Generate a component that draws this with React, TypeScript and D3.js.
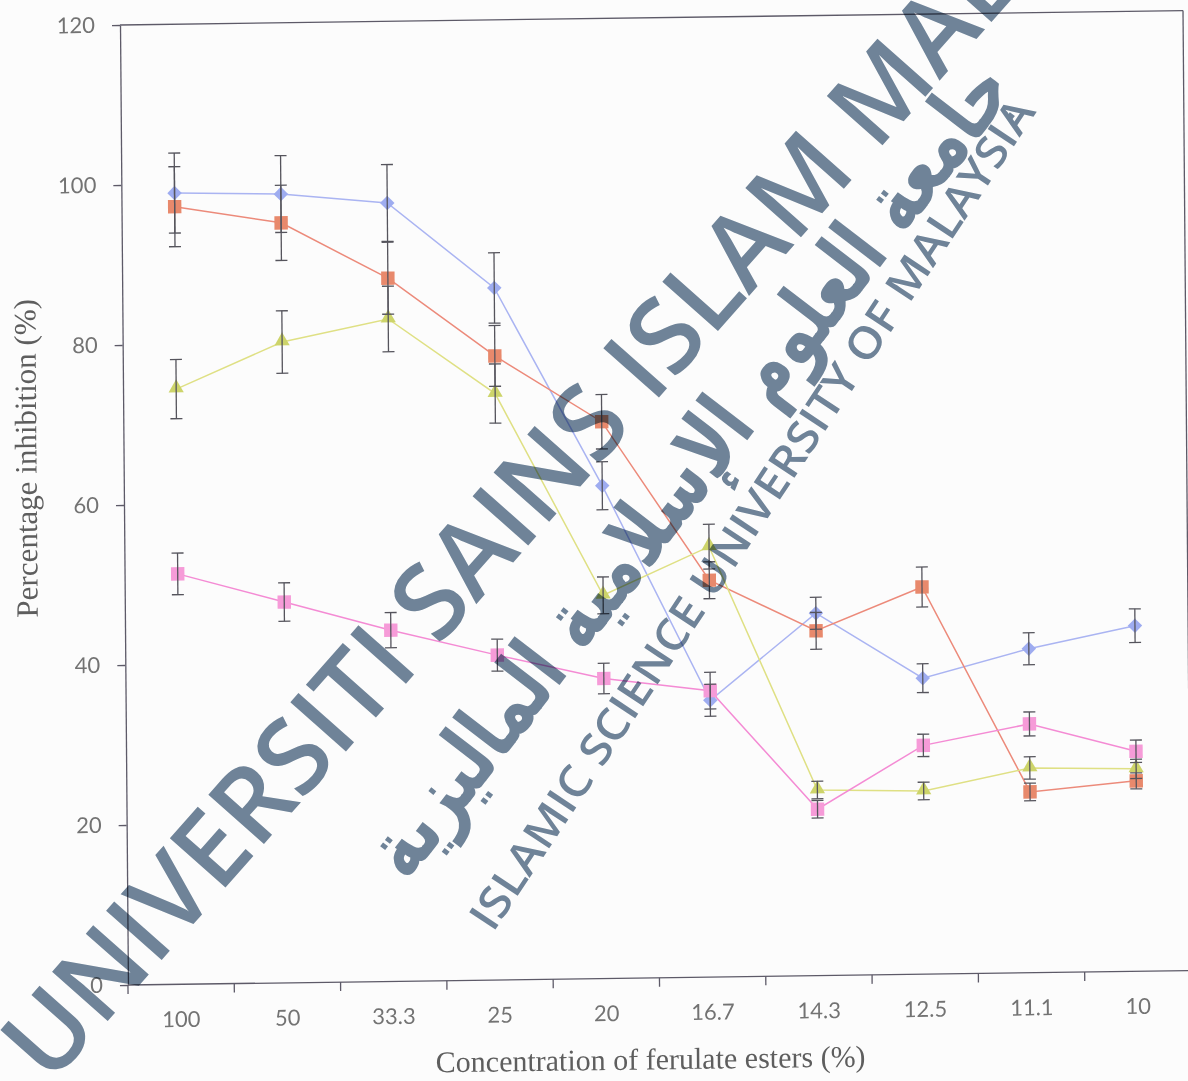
import React, { useEffect, useRef } from 'react'
import * as d3 from 'd3'

// concentration categories along the x axis
const categories = ['100', '50', '33.3', '25', '20', '16.7', '14.3', '12.5', '11.1', '10']
const yTicks = [0, 20, 40, 60, 80, 100, 120]

// series (percentage inhibition)
const diamondValues = [98.9, 98.6, 97.3, 86.5, 61.6, 34.6, 45.3, 37.0, 40.5, 43.2]
const diamondErrors = [5.0, 4.8, 4.8, 4.4, 3.0, 2.0, 2.0, 1.8, 2.0, 2.1]
const squareValues = [97.2, 95.0, 87.9, 78.0, 69.6, 49.6, 43.1, 48.4, 22.6, 23.8]
const squareErrors = [5.0, 4.7, 4.5, 3.8, 3.4, 2.3, 2.3, 2.5, 1.1, 1.0]
const triangleValues = [74.4, 80.1, 82.8, 73.3, 47.9, 53.8, 23.2, 22.9, 25.6, 25.3]
const triangleErrors = [3.7, 3.9, 4.1, 3.7, 2.3, 2.8, 1.1, 1.1, 1.4, 1.2]
const pinkValues = [51.3, 47.6, 43.9, 40.6, 37.5, 35.8, 20.8, 28.6, 31.1, 27.5]
const pinkErrors = [2.6, 2.4, 2.2, 2.0, 1.9, 2.3, 1.1, 1.4, 1.5, 1.4]

const series = [
	{ name: 'diamond', values: diamondValues, errors: diamondErrors, line: '#aab4f2', fill: '#9eacf0', symbol: 'diamond' },
	{ name: 'square', values: squareValues, errors: squareErrors, line: '#ec8a7a', fill: '#e8896c', symbol: 'square' },
	{ name: 'triangle', values: triangleValues, errors: triangleErrors, line: '#dfe084', fill: '#cdd46a', symbol: 'triangle' },
	{ name: 'pink', values: pinkValues, errors: pinkErrors, line: '#f48bd4', fill: '#f69bd8', symbol: 'square' },
]

const WIDTH = 1188
const HEIGHT = 1081

function Chart() {
	const ref = useRef(null)

	useEffect(() => {
		const svg = d3.select(ref.current)
		svg.selectAll('*').remove()

		const w = 1063
		const h = 960

		svg.append('rect').attr('width', WIDTH).attr('height', HEIGHT).attr('fill', '#fcfcfc')

		// the scan is slightly skewed, so the whole plot sits in a sheared group
		const chart = svg.append('g').attr('transform', 'matrix(1,-0.0136,0.0083,1,120,25)')

		const x = d3.scaleBand().domain(categories).range([0, w]).padding(0)
		const y = d3.scaleLinear().domain([0, 120]).range([h, 0])
		const cx = (c) => x(c) + x.bandwidth() / 2

		const axisColor = '#5d5a68'
		const labelColor = '#737373'

		// frame: top and right edges
		chart.append('line').attr('x1', 0).attr('x2', w).attr('y1', 0).attr('y2', 0)
			.attr('stroke', axisColor).attr('stroke-width', 1.3)
		chart.append('line').attr('x1', w).attr('x2', w).attr('y1', 0).attr('y2', h)
			.attr('stroke', axisColor).attr('stroke-width', 1.3)

		const yAxis = chart.append('g')
			.call(d3.axisLeft(y).tickValues(yTicks).tickSizeInner(8).tickSizeOuter(0).tickPadding(17))
		yAxis.select('.domain').attr('stroke', axisColor).attr('stroke-width', 1.3)
		yAxis.selectAll('.tick line').attr('stroke', axisColor).attr('stroke-width', 1.3)
		yAxis.selectAll('.tick text')
			.attr('fill', labelColor).attr('font-family', 'Lato, sans-serif').attr('font-size', 22)

		const xAxis = chart.append('g').attr('transform', `translate(0,${h})`)
		xAxis.append('line').attr('x1', 0).attr('x2', w).attr('stroke', axisColor).attr('stroke-width', 1.3)
		xAxis.selectAll('.tickmark')
			.data([...categories.map((c) => x(c)), w])
			.enter()
			.append('line')
			.attr('x1', (d) => d).attr('x2', (d) => d)
			.attr('y1', 0).attr('y2', 9)
			.attr('stroke', axisColor).attr('stroke-width', 1.3)
		xAxis.selectAll('.ticklabel')
			.data(categories)
			.enter()
			.append('text')
			.attr('x', (c) => cx(c))
			.attr('y', 35)
			.attr('dy', '0.35em')
			.attr('text-anchor', 'middle')
			.attr('fill', labelColor)
			.attr('font-family', 'Lato, sans-serif')
			.attr('font-size', 22)
			.text((c) => c)

		chart.append('text')
			.attr('x', 522)
			.attr('y', h + 81)
			.attr('dy', '0.35em')
			.attr('text-anchor', 'middle')
			.attr('fill', '#5e5e5e')
			.attr('font-family', '"Liberation Serif", serif')
			.attr('font-size', 30)
			.text('Concentration of ferulate esters (%)')

		chart.append('text')
			.attr('transform', `translate(-98,${h / 2 - 48}) rotate(-90)`)
			.attr('dy', '0.35em')
			.attr('text-anchor', 'middle')
			.attr('fill', '#5e5e5e')
			.attr('font-family', '"Liberation Serif", serif')
			.attr('font-size', 31)
			.text('Percentage inhibition (%)')

		const line = d3.line()
			.x((d) => cx(d.c))
			.y((d) => y(d.v))

		series.forEach((s) => {
			const pts = categories.map((c, i) => ({ c, v: s.values[i], e: s.errors[i] }))
			chart.append('path')
				.datum(pts)
				.attr('d', line)
				.attr('fill', 'none')
				.attr('stroke', s.line)
				.attr('stroke-width', 1.5)

			const sym =
				s.symbol === 'diamond'
					? d3.symbol().type(d3.symbolSquare).size(105)
					: s.symbol === 'triangle'
						? d3.symbol().type(d3.symbolTriangle).size(100)
						: d3.symbol().type(d3.symbolSquare).size(180)

			chart.append('g')
				.selectAll('path')
				.data(pts)
				.enter()
				.append('path')
				.attr('d', sym)
				.attr('transform', (d) =>
					`translate(${cx(d.c)},${y(d.v) + (s.symbol === 'triangle' ? -1 : 0)})` +
					(s.symbol === 'diamond' ? ' rotate(45)' : ''))
				.attr('fill', s.fill)
		})

		// error bars drawn last, over the markers
		series.forEach((s) => {
			const pts = categories.map((c, i) => ({ c, v: s.values[i], e: s.errors[i] }))
			const g = chart.append('g').attr('stroke', '#55545c').attr('stroke-width', 1.3)
			g.selectAll('.stem')
				.data(pts)
				.enter()
				.append('line')
				.attr('x1', (d) => cx(d.c)).attr('x2', (d) => cx(d.c))
				.attr('y1', (d) => y(d.v + d.e)).attr('y2', (d) => y(d.v - d.e))
			g.selectAll('.capTop')
				.data(pts)
				.enter()
				.append('line')
				.attr('x1', (d) => cx(d.c) - 6).attr('x2', (d) => cx(d.c) + 6)
				.attr('y1', (d) => y(d.v + d.e)).attr('y2', (d) => y(d.v + d.e))
			g.selectAll('.capBottom')
				.data(pts)
				.enter()
				.append('line')
				.attr('x1', (d) => cx(d.c) - 6).attr('x2', (d) => cx(d.c) + 6)
				.attr('y1', (d) => y(d.v - d.e)).attr('y2', (d) => y(d.v - d.e))
		})

		// university watermark stamped over the scan
		const mark = svg.append('g').attr('fill', '#70859a').style('mix-blend-mode', 'multiply')
		mark.append('text')
			.attr('transform', 'translate(50,1086) rotate(-48.5)')
			.attr('font-family', '"Open Sans", sans-serif')
			.attr('font-weight', 600)
			.attr('font-size', 104)
			.text('UNIVERSITI SAINS ISLAM MALAYSIA')
		mark.append('text')
			.attr('transform', 'translate(688,468) rotate(-52.5)')
			.attr('text-anchor', 'middle')
			.attr('dy', '0.35em')
			.attr('font-family', '"DejaVu Sans", sans-serif')
			.attr('font-weight', 'bold')
			.attr('font-size', 86)
			.attr('textLength', 1000)
			.attr('lengthAdjust', 'spacingAndGlyphs')
			.text('جامعة العلوم الإسلامية الماليزية')
		mark.append('text')
			.attr('transform', 'translate(752,514) rotate(-56.5)')
			.attr('text-anchor', 'middle')
			.attr('dy', '0.35em')
			.attr('font-family', '"Open Sans", sans-serif')
			.attr('font-weight', 600)
			.attr('font-size', 44)
			.attr('textLength', 985)
			.attr('lengthAdjust', 'spacingAndGlyphs')
			.text('ISLAMIC SCIENCE UNIVERSITY OF MALAYSIA')
	}, [])

	return <svg ref={ref} width={WIDTH} height={HEIGHT} style={{ position: 'absolute', left: 0, top: 0 }} />
}

export default function App() {
	return <Chart />
}
